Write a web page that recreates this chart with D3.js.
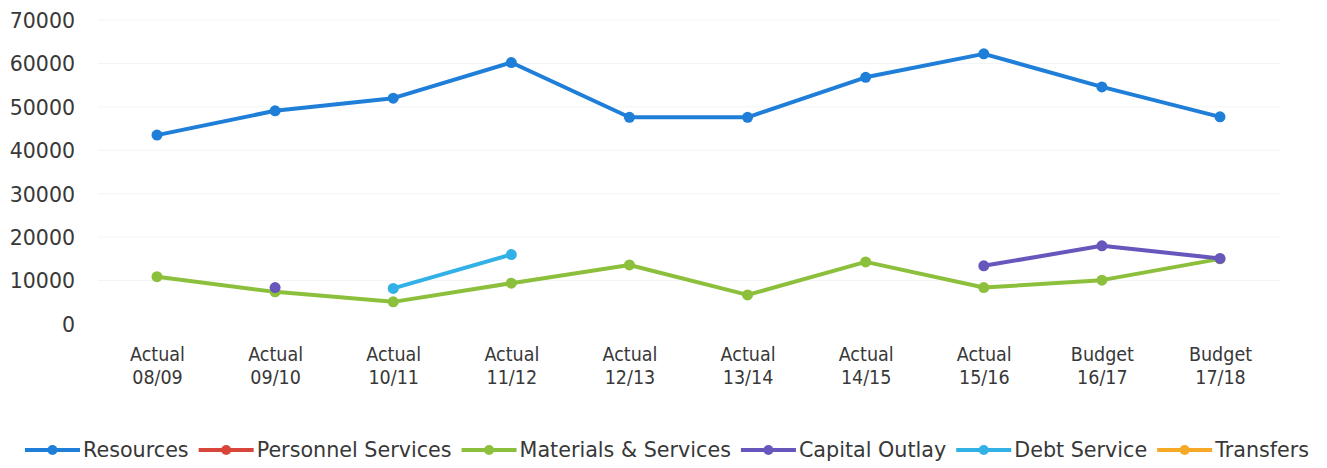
<!DOCTYPE html>
<html>
<head>
<meta charset="utf-8">
<script src="https://cdn.jsdelivr.net/npm/d3@7"></script>
<style>
  html, body { margin: 0; padding: 0; background: #ffffff; }
  svg { display: block; }
</style>
</head>
<body>
<svg id="chart" width="1327" height="468"></svg>
<script>
// Fiscal years shown along the x axis (two-line labels)
const categories = [
  "Actual 08/09", "Actual 09/10", "Actual 10/11", "Actual 11/12", "Actual 12/13",
  "Actual 13/14", "Actual 14/15", "Actual 15/16", "Budget 16/17", "Budget 17/18"
];

// Series values (null = no value for that year)
const resources          = [43500, 49100, 52000, 60200, 47600, 47600, 56800, 62200, 54600, 47700];
const personnelServices  = [null, null, null, null, null, null, null, null, null, null];
const materialsServices  = [10900, 7400, 5100, 9400, 13600, 6700, 14300, 8400, 10100, 15000];
const capitalOutlay      = [null, 8400, null, null, null, null, null, 13400, 18000, 15100];
const debtService        = [null, null, 8200, 16000, null, null, null, null, null, null];
const transfers          = [null, null, null, null, null, null, null, null, null, null];

const seriesNames  = ["Resources", "Personnel Services", "Materials & Services", "Capital Outlay", "Debt Service", "Transfers"];
const seriesColors = ["#1f7fd8", "#d8463b", "#8cc03c", "#6757bd", "#32b1e6", "#f6a827"];
const yTicks = [0, 10000, 20000, 30000, 40000, 50000, 60000, 70000];

const series = seriesNames.map((name, i) => ({
  name,
  color: seriesColors[i],
  values: [resources, personnelServices, materialsServices, capitalOutlay, debtService, transfers][i]
}));

const svg = d3.select("#chart");

const x = d3.scalePoint().domain(categories).range([157, 1220]);
const y = d3.scaleLinear().domain([0, 70000]).range([324, 20]);

// faint horizontal gridlines
svg.append("g")
  .selectAll("line")
  .data(yTicks.slice(1))
  .join("line")
  .attr("x1", 98).attr("x2", 1280)
  .attr("y1", d => y(d)).attr("y2", d => y(d))
  .attr("stroke", "#f3f4f6")
  .attr("stroke-width", 1);

// y axis labels
const yAxis = svg.append("g")
  .attr("transform", "translate(75,0)")
  .call(d3.axisLeft(y).tickValues(yTicks).tickSize(0).tickPadding(0).tickFormat(d3.format("d")));
yAxis.select(".domain").remove();
yAxis.selectAll("text")
  .attr("font-family", "'DejaVu Sans', Verdana, sans-serif")
  .attr("font-size", "20.5px")
  .attr("fill", "#383838")
  .attr("dy", "0.36em");

// x axis labels, split over two lines
const xAxis = svg.append("g")
  .attr("transform", "translate(0,340)")
  .call(d3.axisBottom(x).tickSize(0).tickPadding(0));
xAxis.select(".domain").remove();
xAxis.selectAll(".tick text")
  .attr("font-family", "'DejaVu Sans Condensed', 'DejaVu Sans', sans-serif")
  .attr("font-size", "19.5px")
  .attr("fill", "#383838")
  .each(function(d) {
    const parts = d.split(" ");
    const t = d3.select(this).text(null).attr("y", 0).attr("dy", null);
    t.append("tspan").attr("x", 0).attr("y", 21).text(parts[0]);
    t.append("tspan").attr("x", 0).attr("y", 44).text(parts[1]);
  });

// lines and markers
const line = d3.line()
  .defined(d => d.v != null)
  .x(d => x(d.c))
  .y(d => y(d.v));

const plot = svg.append("g");
series.forEach(s => {
  const pts = s.values.map((v, i) => ({ c: categories[i], v }));
  const g = plot.append("g");
  g.append("path")
    .datum(pts)
    .attr("d", line)
    .attr("fill", "none")
    .attr("stroke", s.color)
    .attr("stroke-width", 4)
    .attr("stroke-linejoin", "round")
    .attr("stroke-linecap", "round");
  g.selectAll("circle")
    .data(pts.filter(p => p.v != null))
    .join("circle")
    .attr("cx", p => x(p.c))
    .attr("cy", p => y(p.v))
    .attr("r", 5.5)
    .attr("fill", s.color);
});

// legend
const legend = svg.append("g").attr("transform", "translate(0,450)");
let lx = 25;
series.forEach(s => {
  const item = legend.append("g").attr("transform", `translate(${lx},0)`);
  item.append("line")
    .attr("x1", 0).attr("x2", 55).attr("y1", 0).attr("y2", 0)
    .attr("stroke", s.color).attr("stroke-width", 4);
  item.append("circle").attr("cx", 27.5).attr("cy", 0).attr("r", 5).attr("fill", s.color);
  const txt = item.append("text")
    .attr("x", 58)
    .attr("dy", "0.36em")
    .attr("font-family", "'DejaVu Sans', Verdana, sans-serif")
    .attr("font-size", "20.7px")
    .attr("fill", "#383838")
    .text(s.name);
  lx += 58 + txt.node().getComputedTextLength() + 10;
});
</script>
</body>
</html>
